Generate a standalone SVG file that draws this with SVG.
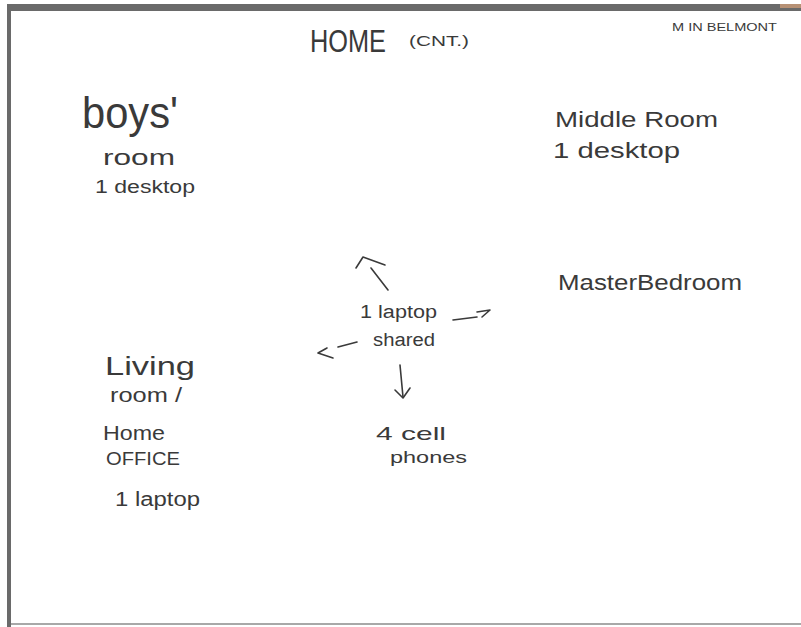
<svg xmlns="http://www.w3.org/2000/svg" width="801" height="627" viewBox="0 0 801 627">
<style>
.t{font-family:"Liberation Sans",Arial,sans-serif;fill:#3a3a3a;}
.c{fill:none;stroke:#3a3a3a;stroke-width:1.6;stroke-linecap:round;stroke-linejoin:round;}
</style>
<rect width="801" height="627" fill="#fff"/>
<g id="frame">
<rect x="7" y="4" width="794" height="7" fill="#6a6a6a"/>
<rect x="7" y="4" width="4" height="623" fill="#6a6a6a"/>
<rect x="11" y="623" width="790" height="2" fill="#a8a8a8"/>
<rect x="780" y="4" width="21" height="4" fill="#d9a27a" opacity="0.7"/>
</g>
<g id="title">
<text class="t" x="310" y="52" font-size="31" textLength="76" lengthAdjust="spacingAndGlyphs">HOME</text>
<text class="t" x="409" y="46" font-size="15" textLength="60" lengthAdjust="spacingAndGlyphs" fill="#666">(CNT.)</text>
<text class="t" x="672" y="31" font-size="11" textLength="105" lengthAdjust="spacingAndGlyphs" fill="#777">M IN BELMONT</text>
</g>
<g id="boys-room">
<text class="t" x="82" y="128" font-size="44" textLength="96" lengthAdjust="spacingAndGlyphs">boys'</text>
<text class="t" x="103" y="165" font-size="22" textLength="72" lengthAdjust="spacingAndGlyphs">room</text>
<text class="t" x="95" y="193" font-size="18" textLength="100" lengthAdjust="spacingAndGlyphs">1 desktop</text>
</g>
<g id="middle-room">
<text class="t" x="555" y="127" font-size="22" textLength="163" lengthAdjust="spacingAndGlyphs">Middle Room</text>
<text class="t" x="553" y="158" font-size="22" textLength="127" lengthAdjust="spacingAndGlyphs">1 desktop</text>
</g>
<g id="master-bedroom">
<text class="t" x="558" y="290" font-size="22" textLength="184" lengthAdjust="spacingAndGlyphs">MasterBedroom</text>
</g>
<g id="shared-laptop">
<text class="t" x="360" y="318" font-size="18" textLength="77" lengthAdjust="spacingAndGlyphs">1 laptop</text>
<text class="t" x="373" y="346" font-size="18" textLength="62" lengthAdjust="spacingAndGlyphs">shared</text>
</g>
<g id="cell-phones">
<text class="t" x="376" y="440" font-size="19" textLength="70" lengthAdjust="spacingAndGlyphs">4 cell</text>
<text class="t" x="390" y="463" font-size="16" textLength="77" lengthAdjust="spacingAndGlyphs">phones</text>
</g>
<g id="living-room">
<text class="t" x="105" y="375" font-size="26" textLength="90" lengthAdjust="spacingAndGlyphs">Living</text>
<text class="t" x="110" y="402" font-size="20" textLength="72" lengthAdjust="spacingAndGlyphs">room /</text>
<text class="t" x="103" y="440" font-size="20" textLength="62" lengthAdjust="spacingAndGlyphs">Home</text>
<text class="t" x="106" y="465" font-size="18" textLength="74" lengthAdjust="spacingAndGlyphs">OFFICE</text>
<text class="t" x="115" y="506" font-size="20" textLength="85" lengthAdjust="spacingAndGlyphs">1 laptop</text>
</g>
<g id="connectors">
<path class="c" d="M388 290 L371 268"/>
<path class="c" d="M356 268 L363 257 L385 265"/>
<path class="c" d="M453 320 L477 317"/>
<path class="c" d="M477 312 L490 310 L482 317"/>
<path class="c" d="M357 342 L338 347"/>
<path class="c" d="M327 348 L318 353 L333 358"/>
<path class="c" d="M400 365 L403 397"/>
<path class="c" d="M395 390 L403 398 L410 388"/>
</g>
</svg>
